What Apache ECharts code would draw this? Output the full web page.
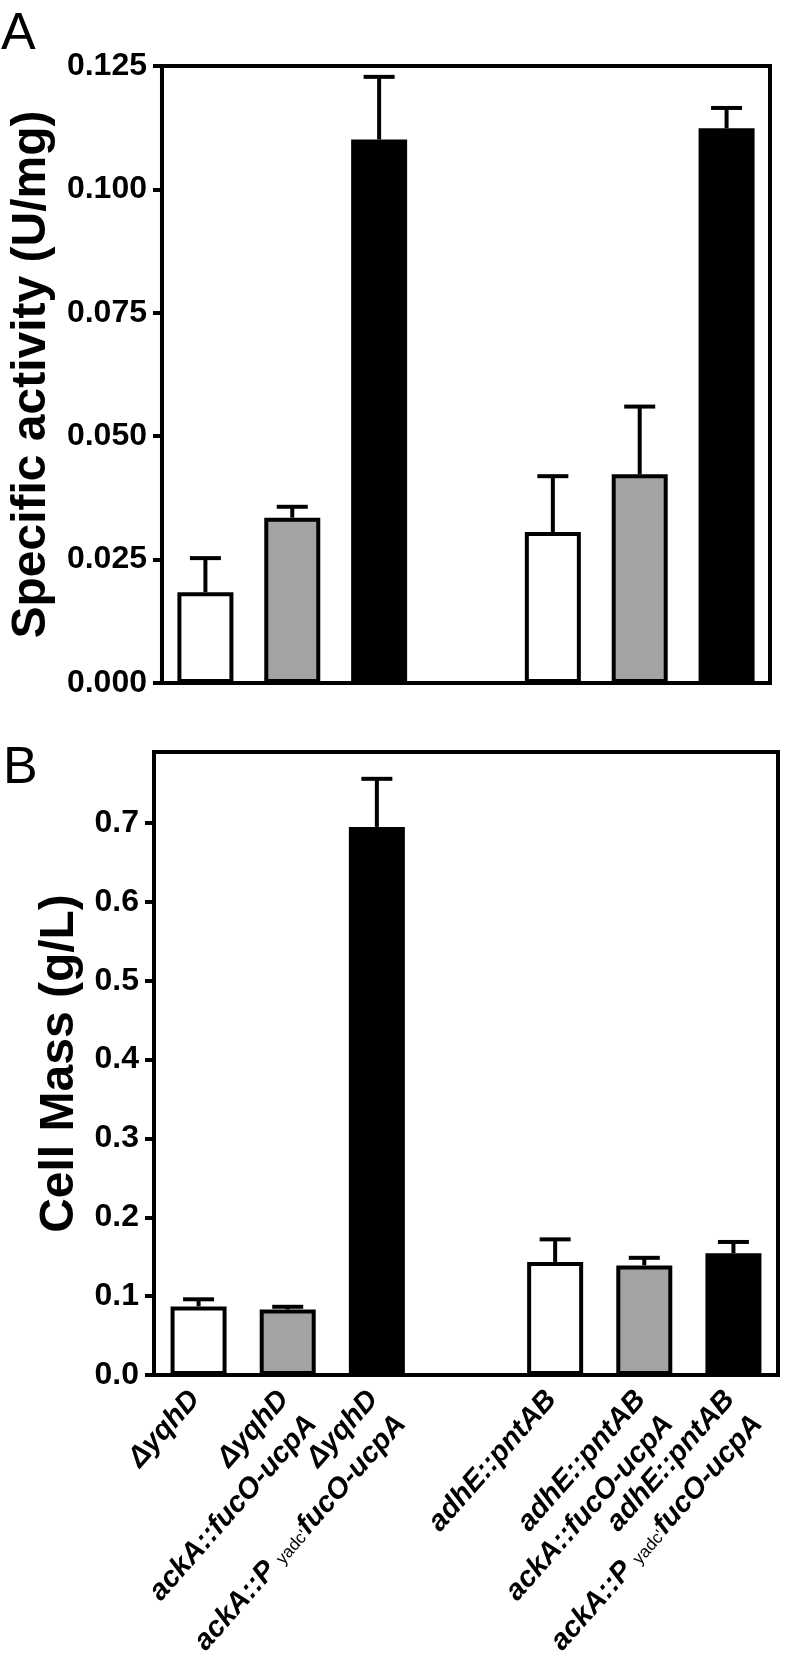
<!DOCTYPE html>
<html>
<head>
<meta charset="utf-8">
<script src="https://cdn.jsdelivr.net/npm/echarts@6/dist/echarts.min.js"></script>
<style>
html,body{margin:0;padding:0;background:#fff;}
#chart{width:788px;height:1671px;}
</style>
</head>
<body>
<div id="chart"></div>
<script>
// ---- data ----
const categories = [
  '{a|ΔyqhD}\n{b| }',
  '{a|ΔyqhD}\n{b|ackA::fucO-ucpA}',
  "{a|ΔyqhD}\n{b|ackA::P }{s|yadc'}{b|fucO-ucpA}",
  '',
  '{a|adhE::pntAB}\n{b| }',
  '{a|adhE::pntAB}\n{b|ackA::fucO-ucpA}',
  "{a|adhE::pntAB}\n{b|ackA::P }{s|yadc'}{b|fucO-ucpA}"
];
const barColors = ['#ffffff', '#a3a3a3', '#000000', null, '#ffffff', '#a3a3a3', '#000000'];

const activityMean = [0.0184, 0.0335, 0.1101, null, 0.0306, 0.0423, 0.1124];
const activityErr  = [0.0069, 0.0022, 0.0127, null, 0.0113, 0.0137, 0.0041];

const massMean = [0.087, 0.083, 0.695, null, 0.1434, 0.139, 0.1543];
const massErr  = [0.009, 0.0035, 0.061, null, 0.0286, 0.0096, 0.0144];

const activityTicks = [0, 0.025, 0.05, 0.075, 0.1, 0.125];
const massTicks = [0, 0.1, 0.2, 0.3, 0.4, 0.5, 0.6, 0.7];

// ---- chart ----
const FONT = "'Liberation Sans', Arial, Helvetica, sans-serif";
const chart = echarts.init(document.getElementById('chart'), null, {renderer: 'canvas'});

function barData(means) {
  return means.map((v, i) => v == null ? null : {
    value: v,
    itemStyle: {color: barColors[i], borderColor: '#000', borderWidth: 4}
  });
}
function errData(means, errs) {
  const out = [];
  means.forEach((v, i) => { if (v != null) out.push([i, v, errs[i]]); });
  return out;
}
function renderErr(params, api) {
  const x = api.value(0), m = api.value(1), e = api.value(2);
  const base = api.coord([x, m]);
  const top = api.coord([x, m + e]);
  const capW = 31;
  return {
    type: 'group',
    children: [
      {type: 'line', shape: {x1: base[0], y1: base[1], x2: top[0], y2: top[1]}, style: {stroke: '#000', lineWidth: 4}},
      {type: 'line', shape: {x1: top[0] - capW / 2, y1: top[1], x2: top[0] + capW / 2, y2: top[1]}, style: {stroke: '#000', lineWidth: 4}}
    ]
  };
}

const tickLabelStyle = {color: '#000', fontFamily: FONT, fontWeight: 'bold', fontSize: 32};
const catText = {color: '#000', fontFamily: FONT, fontWeight: 'bold', fontStyle: 'italic', fontSize: 29};

const option = {
  animation: false,
  backgroundColor: '#fff',
  title: [
    {text: 'A', left: -4, top: 4, textStyle: {fontFamily: FONT, fontSize: 52, fontWeight: 'normal', color: '#000'}},
    {text: 'B', left: -2, top: 738, textStyle: {fontFamily: FONT, fontSize: 52, fontWeight: 'normal', color: '#000'}}
  ],
  grid: [
    {left: 152, right: 18, top: 66, height: 617, show: true, borderColor: '#000', borderWidth: 4, backgroundColor: 'transparent'},
    {left: 154, right: 10, top: 752, height: 623, show: true, borderColor: '#000', borderWidth: 4, backgroundColor: 'transparent'}
  ],
  xAxis: [
    {
      type: 'category', gridIndex: 0, data: categories,
      axisLine: {lineStyle: {color: '#000', width: 4}},
      axisTick: {show: false}, axisLabel: {show: false}
    },
    {
      type: 'category', gridIndex: 1, data: categories,
      axisLine: {lineStyle: {color: '#000', width: 4}},
      axisTick: {show: false},
      axisLabel: Object.assign({
        interval: 0, rotate: 48.5, margin: 23,
        rich: {
          a: Object.assign({lineHeight: 64}, catText),
          b: Object.assign({lineHeight: 10}, catText),
          s: {fontFamily: FONT, fontSize: 17, fontWeight: 'normal', fontStyle: 'normal', color: '#000', lineHeight: 2, padding: [8, 0, 0, 0]}
        }
      }, catText)
    }
  ],
  yAxis: [
    {
      type: 'value', gridIndex: 0, min: 0, max: 0.125, interval: 0.025,
      name: 'Specific activity (U/mg)', nameLocation: 'middle', nameRotate: 90, nameGap: 94,
      nameTextStyle: {color: '#000', fontFamily: FONT, fontWeight: 'bold', fontSize: 48},
      axisLine: {show: true, lineStyle: {color: '#000', width: 4}},
      axisTick: {show: true, length: 9, lineStyle: {color: '#000', width: 4}},
      splitLine: {show: false},
      axisLabel: Object.assign({margin: 15, formatter: v => v.toFixed(3)}, tickLabelStyle)
    },
    {
      type: 'value', gridIndex: 1, min: 0, max: 0.79,
      name: 'Cell Mass (g/L)', nameLocation: 'middle', nameRotate: 90, nameGap: 70,
      nameTextStyle: {color: '#000', fontFamily: FONT, fontWeight: 'bold', fontSize: 48},
      axisLine: {show: true, lineStyle: {color: '#000', width: 4}},
      axisTick: {show: true, length: 9, customValues: massTicks, lineStyle: {color: '#000', width: 4}},
      splitLine: {show: false},
      axisLabel: Object.assign({margin: 15, customValues: massTicks, formatter: v => v.toFixed(1)}, tickLabelStyle)
    }
  ],
  series: [
    {type: 'bar', xAxisIndex: 0, yAxisIndex: 0, barWidth: 56, data: barData(activityMean), z: 2},
    {type: 'custom', xAxisIndex: 0, yAxisIndex: 0, renderItem: renderErr, data: errData(activityMean, activityErr), z: 3},
    {type: 'bar', xAxisIndex: 1, yAxisIndex: 1, barWidth: 56, data: barData(massMean), z: 2},
    {type: 'custom', xAxisIndex: 1, yAxisIndex: 1, renderItem: renderErr, data: errData(massMean, massErr), z: 3}
  ]
};
chart.setOption(option);
</script>
</body>
</html>
